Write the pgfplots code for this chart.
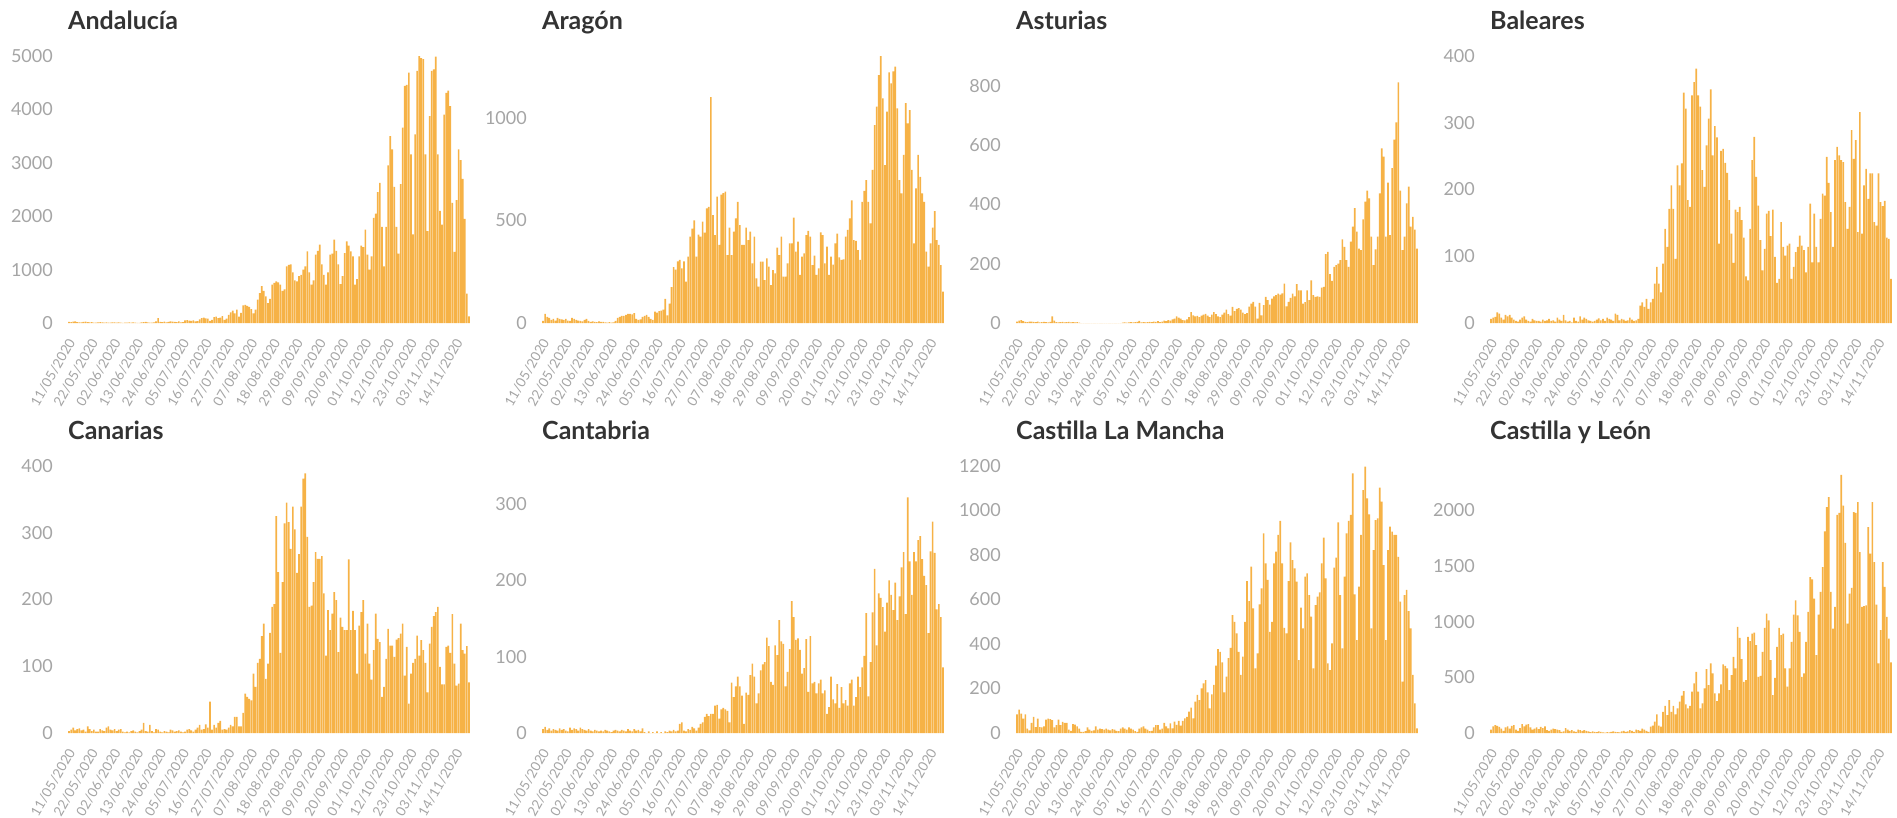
\documentclass[border=0pt]{standalone}
\usepackage{fontspec}
\setmainfont{Lato}
\usepackage{pgfplots}
\pgfplotsset{compat=1.18}
\usepackage{pgfplotstable}
\definecolor{barfill}{RGB}{246,178,70}
\definecolor{ticklab}{RGB}{165,165,165}
\definecolor{titlec}{RGB}{51,51,51}

\pgfplotstableread[row sep=\\]{v\\
20\\15\\25\\30\\15\\10\\10\\
20\\25\\15\\10\\15\\5\\5\\
10\\15\\10\\8\\12\\5\\5\\
10\\12\\8\\10\\5\\3\\5\\
8\\10\\5\\12\\6\\3\\4\\
10\\15\\20\\12\\8\\5\\10\\
30\\90\\20\\15\\25\\10\\20\\
30\\25\\20\\15\\30\\10\\15\\
50\\55\\45\\40\\50\\30\\35\\
70\\90\\100\\85\\80\\40\\60\\
110\\120\\90\\100\\130\\60\\80\\
150\\200\\230\\180\\250\\120\\190\\
330\\340\\320\\300\\260\\180\\250\\
440\\560\\690\\600\\500\\370\\450\\
720\\750\\780\\760\\720\\600\\630\\
1060\\1090\\1100\\950\\800\\780\\880\\
900\\1000\\1060\\1340\\950\\720\\800\\
1280\\1350\\1470\\1100\\900\\720\\950\\
1280\\1300\\1560\\1350\\1100\\730\\880\\
1310\\1530\\1450\\1340\\1250\\720\\820\\
1250\\1450\\1420\\1750\\1280\\1000\\1250\\
1970\\2050\\2450\\2625\\1800\\1060\\1800\\
2950\\3500\\3250\\2550\\1800\\1300\\2600\\
3660\\4440\\4460\\4690\\3160\\1660\\3530\\
4720\\5000\\4960\\4940\\3160\\1720\\3875\\
4720\\4750\\4990\\3160\\2100\\1840\\3900\\
4310\\4350\\4060\\2250\\1330\\2300\\3250\\
3050\\2700\\1950\\550\\125\\
}\dAnd

\pgfplotstableread[row sep=\\]{v\\
10\\45\\30\\25\\15\\20\\12\\
25\\20\\18\\15\\20\\12\\10\\
25\\20\\15\\12\\10\\8\\15\\
20\\10\\5\\8\\6\\4\\8\\
5\\6\\3\\2\\4\\2\\3\\
10\\25\\30\\35\\35\\40\\45\\
45\\42\\48\\20\\15\\18\\30\\
35\\40\\30\\20\\15\\55\\50\\
58\\60\\65\\118\\37\\94\\175\\
272\\260\\300\\
307\\266\\300\\201\\323\\420\\460\\500\\323\\430\\
420\\493\\440\\558\\566\\1100\\525\\428\\615\\380\\
625\\632\\640\\331\\464\\331\\445\\510\\590\\477\\
380\\380\\464\\404\\445\\290\\420\\217\\177\\299\\
299\\209\\315\\274\\185\\258\\242\\367\\331\\420\\
226\\226\\290\\388\\388\\513\\347\\396\\234\\323\\
339\\428\\448\\420\\282\\328\\234\\266\\441\\428\\
290\\372\\234\\323\\284\\388\\435\\320\\307\\310\\
420\\453\\510\\597\\404\\400\\355\\307\\590\\643\\
696\\590\\485\\745\\964\\1053\\1207\\1305\\1094\\769\\
1029\\1220\\1167\\1225\\1248\\1045\\696\\631\\818\\1070\\
972\\1037\\745\\388\\656\\818\\712\\631\\590\\347\\
274\\388\\464\\545\\404\\380\\282\\153\\
}\dAra

\pgfplotstableread[row sep=\\]{v\\
5\\8\\10\\6\\4\\3\\5\\
5\\4\\3\\5\\2\\3\\4\\
3\\2\\4\\22\\8\\3\\2\\
3\\4\\2\\3\\4\\2\\3\\
2\\3\\1\\0\\0\\0\\0\\
0\\0\\0\\0\\0\\0\\0\\
0\\0\\0\\0\\0\\0\\0\\
0\\0\\1\\2\\1\\2\\3\\
2\\3\\4\\7\\2\\3\\2\\
3\\4\\3\\5\\4\\6\\3\\
5\\8\\6\\10\\8\\12\\15\\
22\\18\\15\\10\\9\\12\\20\\
37\\26\\22\\24\\20\\25\\28\\
31\\25\\20\\28\\37\\30\\22\\
20\\28\\35\\45\\30\\25\\54\\
40\\48\\50\\45\\35\\30\\33\\
55\\65\\71\\55\\15\\68\\26\\
60\\88\\77\\62\\82\\90\\94\\
99\\96\\100\\133\\56\\71\\85\\
99\\90\\131\\110\\110\\65\\70\\
110\\77\\144\\94\\88\\90\\88\\
119\\122\\232\\240\\165\\142\\189\\
195\\200\\212\\282\\257\\212\\189\\
274\\325\\387\\308\\251\\246\\349\\
409\\446\\420\\291\\195\\248\\291\\
437\\589\\561\\291\\473\\296\\522\\
618\\676\\811\\446\\246\\291\\403\\
460\\325\\358\\315\\251\\
}\dAst

\pgfplotstableread[row sep=\\]{v\\
6\\8\\9\\16\\14\\8\\5\\
12\\10\\12\\8\\5\\3\\2\\
5\\8\\10\\5\\3\\2\\6\\
4\\3\\3\\2\\5\\3\\4\\
6\\3\\4\\2\\8\\5\\3\\
12\\4\\2\\3\\1\\8\\3\\
2\\10\\5\\8\\6\\4\\3\\
2\\3\\5\\7\\4\\6\\3\\
8\\6\\5\\3\\14\\12\\4\\
6\\5\\3\\4\\8\\5\\3\\
4\\6\\
26\\31\\24\\36\\21\\31\\36\\59\\84\\59\\
46\\89\\141\\114\\171\\206\\171\\96\\236\\206\\
239\\345\\321\\184\\174\\341\\361\\381\\341\\324\\
229\\204\\266\\306\\350\\251\\295\\278\\119\\258\\
261\\240\\225\\184\\134\\90\\170\\166\\174\\154\\
128\\70\\64\\141\\244\\279\\219\\176\\124\\79\\
111\\164\\168\\130\\170\\99\\60\\66\\151\\114\\
101\\116\\119\\66\\84\\106\\114\\131\\116\\109\\
76\\114\\179\\91\\164\\114\\91\\156\\194\\191\\
249\\210\\166\\114\\244\\264\\251\\244\\241\\181\\
141\\174\\289\\246\\274\\136\\316\\134\\206\\231\\
186\\224\\224\\151\\146\\224\\181\\175\\183\\128\\
126\\66\\
}\dBal

\pgfplotstableread[row sep=\\]{v\\
3\\5\\8\\4\\6\\7\\4\\
5\\2\\10\\6\\3\\5\\2\\
2\\6\\4\\3\\8\\10\\5\\
4\\6\\3\\5\\6\\2\\1\\
2\\1\\3\\4\\2\\1\\3\\
5\\15\\3\\2\\12\\3\\1\\
6\\5\\2\\1\\3\\2\\1\\
5\\4\\2\\3\\4\\2\\1\\
2\\5\\6\\4\\2\\5\\8\\
12\\5\\6\\13\\8\\47\\5\\
12\\8\\15\\18\\5\\6\\5\\
8\\12\\10\\
24\\24\\10\\10\\30\\59\\54\\51\\49\\89\\
69\\105\\111\\145\\164\\81\\104\\150\\189\\193\\
325\\241\\120\\226\\314\\345\\316\\276\\339\\305\\
240\\268\\339\\381\\389\\294\\189\\191\\226\\271\\
261\\261\\265\\209\\116\\184\\154\\179\\211\\199\\121\\
173\\159\\154\\154\\260\\154\\183\\154\\89\\161\\181\\
199\\119\\164\\104\\80\\124\\179\\141\\136\\54\\
69\\111\\156\\131\\131\\114\\140\\142\\149\\164\\
86\\129\\44\\89\\105\\111\\146\\116\\139\\124\\
105\\61\\134\\159\\175\\181\\189\\99\\73\\73\\
129\\131\\120\\178\\104\\71\\74\\164\\124\\119\\
130\\76\\
}\dCanr

\pgfplotstableread[row sep=\\]{v\\
5\\8\\4\\6\\3\\5\\4\\
3\\6\\4\\5\\3\\2\\7\\
4\\6\\5\\3\\7\\5\\4\\
3\\5\\3\\2\\4\\3\\2\\
3\\2\\4\\3\\2\\1\\3\\
4\\3\\2\\4\\3\\2\\5\\
3\\2\\5\\3\\4\\2\\6\\
1\\0\\2\\0\\1\\0\\2\\
0\\1\\0\\2\\1\\3\\2\\
4\\2\\3\\12\\14\\3\\2\\
5\\4\\8\\6\\3\\7\\12\\
14\\21\\25\\22\\25\\25\\
36\\37\\19\\31\\33\\31\\29\\14\\66\\47\\
61\\74\\61\\49\\12\\53\\50\\76\\91\\74\\
39\\52\\82\\90\\93\\125\\114\\67\\63\\115\\
102\\148\\120\\117\\61\\80\\110\\173\\152\\122\\
124\\109\\78\\85\\123\\54\\127\\65\\67\\52\\
65\\70\\52\\56\\25\\34\\74\\44\\
39\\64\\33\\60\\39\\43\\36\\65\\70\\
36\\47\\74\\60\\86\\101\\157\\48\\93\\158\\
215\\115\\183\\177\\165\\133\\171\\200\\181\\161\\
197\\148\\179\\217\\237\\156\\309\\225\\181\\237\\
225\\253\\258\\228\\206\\194\\131\\238\\277\\236\\
162\\169\\152\\86\\
}\dCant

\pgfplotstableread[row sep=\\]{v\\
84\\105\\87\\65\\84\\20\\12\\45\\72\\27\\65\\27\\
25\\30\\60\\65\\62\\58\\25\\35\\60\\35\\
50\\45\\45\\15\\10\\40\\38\\30\\20\\5\\
5\\8\\25\\15\\10\\12\\30\\15\\20\\18\\15\\20\\15\\12\\
18\\15\\10\\8\\20\\25\\20\\15\\25\\20\\15\\8\\5\\20\\25\\
30\\20\\15\\8\\10\\25\\35\\35\\15\\20\\45\\30\\
21\\43\\21\\51\\36\\54\\33\\54\\66\\73\\96\\114\\66\\141\\171\\148\\
201\\223\\238\\183\\111\\174\\216\\303\\377\\365\\
318\\183\\253\\336\\383\\530\\500\\448\\365\\261\\
343\\500\\683\\593\\748\\560\\291\\358\\578\\650\\
897\\762\\688\\455\\500\\762\\815\\890\\953\\762\\
473\\448\\683\\857\\777\\740\\680\\328\\563\\470\\
703\\718\\620\\523\\291\\575\\613\\632\\762\\878\\
695\\313\\283\\403\\743\\788\\947\\620\\380\\703\\
897\\953\\980\\1167\\623\\418\\658\\890\\1092\\1197\\
1055\\983\\470\\822\\957\\965\\1103\\1040\\755\\418\\
822\\927\\905\\890\\890\\792\\590\\231\\620\\643\\
548\\470\\261\\133\\21\\
}\dClm

\pgfplotstableread[row sep=\\]{v\\
30\\60\\70\\65\\55\\40\\20\\
50\\60\\40\\65\\70\\30\\20\\
45\\80\\60\\75\\80\\50\\30\\
40\\50\\35\\55\\45\\60\\25\\
20\\30\\40\\35\\30\\25\\10\\
15\\45\\30\\20\\25\\15\\10\\
30\\25\\20\\25\\20\\15\\8\\
15\\10\\8\\15\\10\\5\\3\\
8\\5\\10\\15\\10\\8\\5\\
15\\20\\10\\15\\25\\20\\10\\
30\\25\\20\\40\\30\\20\\10\\
57\\66\\102\\167\\66\\57\\191\\245\\161\\
296\\191\\245\\167\\221\\281\\335\\377\\257\\221\\
245\\371\\446\\550\\371\\221\\266\\401\\574\\430\\
625\\535\\356\\287\\356\\437\\616\\604\\580\\
386\\520\\685\\580\\954\\855\\664\\460\\475\\
864\\825\\894\\903\\789\\505\\514\\730\\945\\1073\\
1013\\655\\341\\496\\774\\945\\879\\894\\580\\416\\
580\\819\\1064\\1193\\1058\\909\\505\\535\\819\\1088\\
1402\\1381\\1208\\700\\1064\\1268\\1492\\1812\\2030\\2120\\
1268\\939\\1133\\1961\\1979\\2320\\2045\\1710\\984\\1253\\
1304\\1985\\1979\\2075\\1627\\1133\\1140\\1148\\1851\\1612\\2075\\
1537\\1154\\625\\924\\1537\\1313\\1043\\849\\634\\
}\dCyl

\pgfplotsset{
  panel/.style={
    ybar, bar width=0.8,
    scale only axis, width=402pt, height=267pt,
    xmin=-0.5, xmax=193.5, ymin=0,
    axis line style={draw=none},
    major tick length=0pt,
    tick style={draw=none},
    xtick={0,11,...,187},
    xticklabels={11/05/2020,22/05/2020,02/06/2020,13/06/2020,24/06/2020,05/07/2020,16/07/2020,27/07/2020,07/08/2020,18/08/2020,29/08/2020,09/09/2020,20/09/2020,01/10/2020,12/10/2020,23/10/2020,03/11/2020,14/11/2020},
    xticklabel style={font=\fontsize{13.5}{14}\selectfont, text=ticklab, inner sep=0pt, xshift=-2pt, yshift=-14pt, rotate=60, anchor=north east},
    yticklabel style={font=\fontsize{18}{20}\selectfont, text=ticklab, inner sep=0pt, anchor=east, xshift=-15pt},
    scaled y ticks=false,
    /pgf/number format/1000 sep={},
    /pgf/number format/assume math mode=true,
  },
  bars/.style={fill=barfill, draw=none},
}
\newcommand{\ptitle}[3]{\node[anchor=base west, inner sep=0pt, text=titlec, font=\fontsize{25}{30}\selectfont\bfseries] at (#1pt,-#2pt) {#3};}

\begin{document}
\begin{tikzpicture}
\useasboundingbox (0,0) rectangle (1897pt,-818pt);
% row 1
\begin{axis}[panel, at={(68pt,-323pt)}, anchor=south west, ymax=5000, ytick={0,1000,...,5000}]
\addplot[bars] table[x expr=\coordindex, y=v] {\dAnd};
\end{axis}
\begin{axis}[panel, at={(542pt,-323pt)}, anchor=south west, ymax=1300, ytick={0,500,1000}]
\addplot[bars] table[x expr=\coordindex, y=v] {\dAra};
\end{axis}
\begin{axis}[panel, at={(1016pt,-323pt)}, anchor=south west, ymax=900, ytick={0,200,...,800}]
\addplot[bars] table[x expr=\coordindex, y=v] {\dAst};
\end{axis}
\begin{axis}[panel, at={(1490pt,-323pt)}, anchor=south west, ymax=400, ytick={0,100,...,400}]
\addplot[bars] table[x expr=\coordindex, y=v] {\dBal};
\end{axis}
% row 2
\begin{axis}[panel, at={(68pt,-733pt)}, anchor=south west, ymax=400, ytick={0,100,...,400}]
\addplot[bars] table[x expr=\coordindex, y=v] {\dCanr};
\end{axis}
\begin{axis}[panel, at={(542pt,-733pt)}, anchor=south west, ymax=350, ytick={0,100,200,300}]
\addplot[bars] table[x expr=\coordindex, y=v] {\dCant};
\end{axis}
\begin{axis}[panel, at={(1016pt,-733pt)}, anchor=south west, ymax=1200, ytick={0,200,...,1200}]
\addplot[bars] table[x expr=\coordindex, y=v] {\dClm};
\end{axis}
\begin{axis}[panel, at={(1490pt,-733pt)}, anchor=south west, ymax=2400, ytick={0,500,...,2000}]
\addplot[bars] table[x expr=\coordindex, y=v] {\dCyl};
\end{axis}
\ptitle{68}{29.3}{Andalucía}
\ptitle{542}{29.3}{Aragón}
\ptitle{1016}{29.3}{Asturias}
\ptitle{1490}{29.3}{Baleares}
\ptitle{68}{439.3}{Canarias}
\ptitle{542}{439.3}{Cantabria}
\ptitle{1016}{439.3}{Castilla La Mancha}
\ptitle{1490}{439.3}{Castilla y León}
\end{tikzpicture}
\end{document}
